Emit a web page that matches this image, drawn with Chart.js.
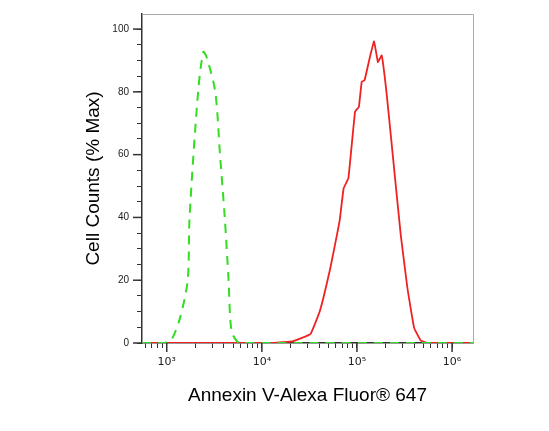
<!DOCTYPE html>
<html><head><meta charset="utf-8">
<script src="https://cdn.jsdelivr.net/npm/chart.js@4"></script>
<style>body{margin:0;background:#fff}</style>
</head><body>
<canvas id="c" width="549" height="431"></canvas>
<script>
// isotype control (log10 channel, % max)
const ctrlLog = [2.74, 2.98, 3.0, 3.05, 3.14, 3.22, 3.24, 3.33, 3.385, 3.42, 3.51, 3.56, 3.61, 3.65, 3.68, 3.74, 3.8, 6.22];
const ctrlVal = [0, 0, 0.3, 1, 8, 20, 40, 80, 92.7, 91, 80, 60, 40, 20, 4, 0.5, 0, 0];
// annexin V stained
const stainLog = [2.74, 4.12, 4.33, 4.51, 4.61, 4.72, 4.79, 4.82, 4.86, 4.91, 4.98, 5.02, 5.05, 5.08, 5.14, 5.18, 5.22, 5.26, 5.31, 5.38, 5.46, 5.53, 5.6, 5.67, 5.74, 6.22];
const stainVal = [0, 0, 0.6, 2.8, 10.2, 23.9, 34.5, 39.4, 49.3, 52.5, 73.7, 75.2, 83.2, 83.7, 91.6, 96.1, 89.5, 91.6, 80, 58.8, 34.5, 17.6, 4.9, 0.8, 0, 0];
const xMajor = [1e3, 1e4, 1e5, 1e6];
const xLabels = ["10³", "10⁴", "10⁵", "10⁶"];
const yLabels = [0, 20, 40, 60, 80, 100];

const pts = (xs, ys) => xs.map((v, i) => ({x: Math.pow(10, v), y: ys[i]}));

// longer ticks at labelled values, plot frame
const extras = {
  id: "extras",
  afterDraw(chart) {
    const c = chart.ctx, a = chart.chartArea;
    const xs = chart.scales.x, ys = chart.scales.y;
    c.save();
    c.strokeStyle = "#aaa"; c.lineWidth = 1;
    c.beginPath();
    c.moveTo(a.left, a.top + 0.5); c.lineTo(a.right + 0.5, a.top + 0.5); c.lineTo(a.right + 0.5, a.bottom);
    c.stroke();
    c.strokeStyle = "#333"; c.lineWidth = 1.5;
    xMajor.forEach(v => {
      const p = xs.getPixelForValue(v);
      c.beginPath(); c.moveTo(p, a.bottom); c.lineTo(p, a.bottom + 9); c.stroke();
    });
    yLabels.forEach(v => {
      const p = ys.getPixelForValue(v);
      c.beginPath(); c.moveTo(a.left, p); c.lineTo(a.left - 9, p); c.stroke();
    });
    c.restore();
  }
};

new Chart(document.getElementById("c"), {
  type: "line",
  data: {
    datasets: [{
      data: pts(ctrlLog, ctrlVal),
      borderColor: "#33dd22",
      borderWidth: 2,
      borderDash: [9, 7],
      pointRadius: 0,
      tension: 0.3
    }, {
      data: pts(stainLog, stainVal),
      borderColor: "#ee2222",
      borderWidth: 1.8,
      pointRadius: 0,
      tension: 0.08
    }]
  },
  options: {
    responsive: false,
    animation: false,
    layout: {padding: {top: 12, right: 76, left: 0, bottom: 20}},
    plugins: {legend: {display: false}, tooltip: {enabled: false}},
    scales: {
      x: {
        type: "logarithmic",
        min: Math.pow(10, 2.74), max: Math.pow(10, 6.22),
        afterFit: s => { s.height = 68; },
        afterBuildTicks: s => {
          const t = [];
          for (let e = 2; e <= 6; e++) for (let m = 1; m <= 9; m++) {
            const v = m * Math.pow(10, e);
            if (v >= s.min && v <= s.max) t.push({value: v});
          }
          s.ticks = t;
        },
        grid: {drawOnChartArea: false, tickLength: 5, color: "#333", lineWidth: 1},
        border: {color: "#333", width: 1.5},
        ticks: {
          autoSkip: false, maxRotation: 0, padding: 8, color: "#222",
          font: {family: "DejaVu Sans", size: 11},
          callback: v => { const i = xMajor.indexOf(v); return i >= 0 ? xLabels[i] : ""; }
        },
        title: {display: true, text: "Annexin V-Alexa Fluor® 647", color: "#000",
          font: {family: "Liberation Sans", size: 19}, padding: {top: 4}}
      },
      y: {
        min: 0, max: 104.8,
        afterFit: s => { s.width = 142; },
        afterBuildTicks: s => {
          const t = [];
          for (let v = 0; v <= 100; v += 5) t.push({value: v});
          s.ticks = t;
        },
        grid: {drawOnChartArea: false, tickLength: 5, color: "#333", lineWidth: 1},
        border: {color: "#333", width: 1.5},
        ticks: {
          autoSkip: false, padding: 8, color: "#222",
          font: {family: "Liberation Sans", size: 10},
          callback: v => yLabels.includes(v) ? String(v) : ""
        },
        title: {display: true, text: "Cell Counts (% Max)", color: "#000",
          font: {family: "Liberation Sans", size: 19}, padding: {bottom: 0, top: 82}}
      }
    }
  },
  plugins: [extras]
});
</script>
</body></html>
